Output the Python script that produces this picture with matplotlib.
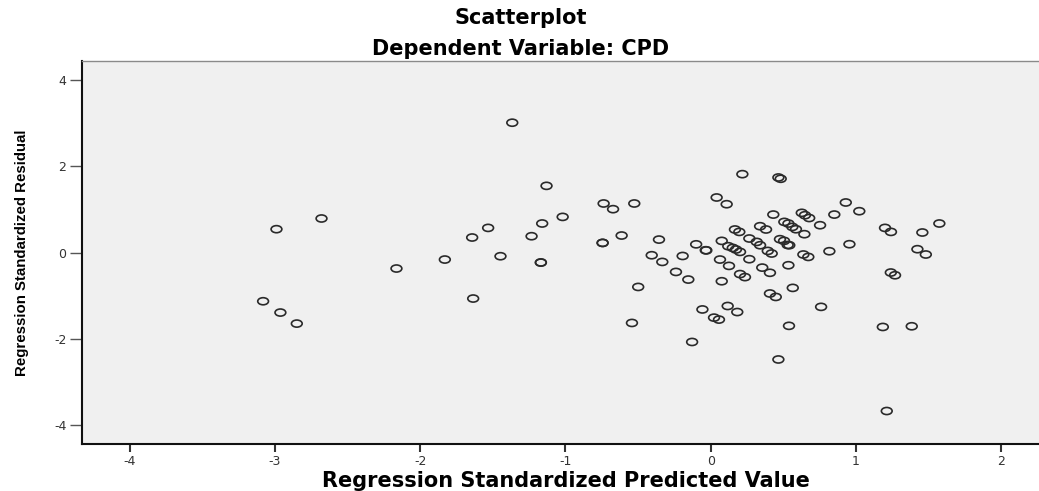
import numpy as np
import matplotlib
matplotlib.use("Agg")
import matplotlib.pyplot as plt
from matplotlib.path import Path
from matplotlib import font_manager

plt.rcParams["axes.unicode_minus"] = False

# predicted value (x) / residual (y)
pred = [-3.081, -2.962, -2.849, -2.989, -2.679,
        -2.163, -1.830, -1.635, -1.642, -1.532, -1.447, -1.366,
        -1.233, -1.160, -1.130, -1.019, -1.169, -1.169,
        -0.737, -0.672, -0.526, -0.744, -0.744, -0.613,
        -0.356, -0.406, -0.333, -0.193, -0.239, -0.154, -0.499, -0.542, -0.128,
        -0.100, -0.034, -0.030,
        -0.057, 0.023, 0.057,
        0.041, 0.110, 0.218, 0.466, 0.482,
        0.076, 0.121, 0.152, 0.174, 0.202,
        0.064, 0.126, 0.266, 0.076, 0.202, 0.236,
        0.117, 0.183,
        0.167, 0.197, 0.266, 0.317, 0.340,
        0.340, 0.381, 0.431,
        0.393, 0.420, 0.355, 0.408,
        0.408, 0.448, 0.466, 0.539, 0.565, 0.535,
        0.477, 0.505, 0.541, 0.530,
        0.507, 0.535, 0.562, 0.587, 0.645,
        0.627, 0.649, 0.678, 0.753,
        0.638, 0.672, 0.760, 0.817, 0.851, 0.930, 1.023, 0.955,
        1.200, 1.241, 1.457, 1.574, 1.423, 1.481, 1.240, 1.269, 1.185, 1.384, 1.212]
resid = [-1.130, -1.392, -1.648, 0.541, 0.789,
         -0.371, -0.163, -1.067, 0.348, 0.571, -0.086, 3.010,
         0.378, 0.673, 1.546, 0.826, -0.232, -0.232,
         1.137, 1.005, 1.137, 0.223, 0.223, 0.394,
         0.300, -0.063, -0.218, -0.080, -0.450, -0.627, -0.798, -1.633, -2.074,
         0.190, 0.053, 0.050,
         -1.320, -1.510, -1.555,
         1.276, 1.120, 1.817, 1.740, 1.710,
         0.270, 0.146, 0.107, 0.070, 0.014,
         -0.163, -0.310, -0.155, -0.666, -0.500, -0.570,
         -1.240, -1.380,
         0.534, 0.478, 0.325, 0.246, 0.169,
         0.610, 0.534, 0.880,
         0.037, -0.023, -0.350, -0.470,
         -0.950, -1.030, -2.480, -1.700, -0.820, -0.295,
         0.309, 0.270, 0.169, 0.175,
         0.710, 0.672, 0.594, 0.540, 0.425,
         0.920, 0.865, 0.800, 0.633,
         -0.046, -0.102, -1.260, 0.030, 0.880, 1.160, 0.958, 0.193,
         0.571, 0.478, 0.464, 0.673, 0.077, -0.046, -0.464, -0.527, -1.726, -1.710, -3.675]

xticks = [-4, -3, -2, -1, 0, 1, 2]
yticks = [-4, -2, 0, 2, 4]

# narrow font for the rotated label if there is one
installed = {f.name for f in font_manager.fontManager.ttflist}
if "Liberation Sans Narrow" in installed:
    ylab_font, ylab_size = "Liberation Sans Narrow", 13.5
else:
    ylab_font, ylab_size = "Liberation Sans", 10.8

# flattened circle, like the SPSS export
circ = Path.unit_circle()
oval = Path(circ.vertices * np.array([1.0, 0.66]), circ.codes)

fig = plt.figure(figsize=(10.39, 4.91), dpi=100)
ax = fig.add_axes([0.0786, 0.0957, 0.9214, 0.78])
ax.set_facecolor("#f0f0f0")

ax.scatter(pred, resid, marker=oval, s=60, facecolors="none",
           edgecolors="#2a2a2a", linewidths=1.2)

ax.set_xlim(-4.33, 2.26)
ax.set_ylim(-4.44, 4.44)
ax.set_xticks(xticks)
ax.set_yticks(yticks)

for s in ["left", "bottom"]:
    ax.spines[s].set_color("#111111")
    ax.spines[s].set_linewidth(1.5)
ax.spines["top"].set_color("#8a8a8a")
ax.spines["top"].set_linewidth(1.0)
ax.spines["right"].set_visible(False)

ax.tick_params(axis="x", direction="out", length=6, width=1.5, color="#333333",
               labelsize=9, labelcolor="#333333", pad=2)
ax.tick_params(axis="y", direction="out", length=9, width=1.0, color="#555555",
               labelsize=9, labelcolor="#333333", pad=2)
for lab in ax.get_xticklabels() + ax.get_yticklabels():
    lab.set_family("DejaVu Sans")

fig.text(0.5015, 0.964, "Scatterplot", ha="center", va="center",
         family="DejaVu Sans", weight="bold", fontsize=15)
fig.text(0.5015, 0.901, "Dependent Variable: CPD", ha="center", va="center",
         family="DejaVu Sans", weight="bold", fontsize=15)
fig.text(0.545, 0.021, "Regression Standardized Predicted Value", ha="center", va="center",
         family="DejaVu Sans", weight="bold", fontsize=15)
fig.text(0.021, 0.486, "Regression Standardized Residual", ha="center", va="center",
         rotation=90, family=[ylab_font, "DejaVu Sans"],
         weight="bold", fontsize=ylab_size)

fig.savefig("out.png", dpi=100)
plt.close(fig)
